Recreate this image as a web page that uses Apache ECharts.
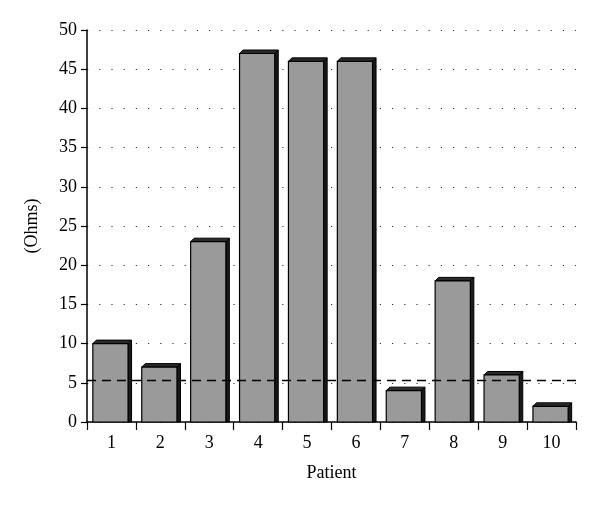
<!DOCTYPE html>
<html><head><meta charset="utf-8">
<script src="https://cdn.jsdelivr.net/npm/echarts@6/dist/echarts.min.js"></script>
<style>html,body{margin:0;padding:0;background:#fff}#c{width:600px;height:507px}</style>
</head><body><div id="c"></div>
<script>
const categories = ['1','2','3','4','5','6','7','8','9','10'];
const values = [10, 7, 23, 47, 46, 46, 4, 18, 6, 2];
const threshold = 5.3;
const yTicks = [0, 5, 10, 15, 20, 25, 30, 35, 40, 45, 50];

const chart = echarts.init(document.getElementById('c'), null, {renderer: 'canvas'});
const font = 'Liberation Serif';
chart.setOption({
  animation: false,
  grid: {left: 87, top: 30, right: 24, bottom: 85},
  xAxis: {
    type: 'category', data: categories,
    axisLine: {lineStyle: {color: '#000', width: 1.5}},
    axisTick: {show: true, length: 8, alignWithLabel: false, lineStyle: {color: '#000', width: 1.2}},
    axisLabel: {color: '#000', fontFamily: font, fontSize: 18, margin: 12},
    name: 'Patient', nameLocation: 'middle', nameGap: 42,
    nameTextStyle: {color: '#000', fontFamily: font, fontSize: 18}
  },
  yAxis: {
    type: 'value', min: yTicks[0], max: yTicks[yTicks.length-1], interval: 5,
    axisLine: {show: true, lineStyle: {color: '#000', width: 1.5}},
    axisTick: {show: true, length: 6, lineStyle: {color: '#000', width: 1.2}},
    axisLabel: {color: '#000', fontFamily: font, fontSize: 18, margin: 10},
    splitLine: {show: true, lineStyle: {color: '#333', width: 1.2, type: [1.2, 11]}},
    name: '(Ohms)', nameLocation: 'middle', nameGap: 46, nameRotate: 90,
    nameTextStyle: {color: '#000', fontFamily: font, fontSize: 18}
  },
  series: [{
    type: 'custom',
    data: values.map((v, i) => [i, v]),
    renderItem: function (params, api) {
      const top = api.coord([api.value(0), api.value(1)]);
      const base = api.coord([api.value(0), 0]);
      const bw = api.size([1, 0])[0] * 0.72;
      const d = 3.5;
      const x0 = top[0] - bw / 2 - 1, x1 = x0 + bw;
      const y0 = top[1], y1 = base[1];
      return {
        type: 'group',
        children: [
          {type: 'polygon', shape: {points: [[x1, y0], [x1 + d, y0 - d], [x1 + d, y1], [x1, y1]]},
           style: {fill: '#1a1a1a', stroke: '#000', lineWidth: 1}},
          {type: 'polygon', shape: {points: [[x0, y0], [x0 + d, y0 - d], [x1 + d, y0 - d], [x1, y0]]},
           style: {fill: '#2a2a2a', stroke: '#000', lineWidth: 1}},
          {type: 'rect', shape: {x: x0, y: y0, width: bw, height: y1 - y0},
           style: {fill: '#9a9a9a', stroke: '#000', lineWidth: 1.2}}
        ]
      };
    },
    markLine: {
      silent: true, symbol: 'none', label: {show: false},
      lineStyle: {color: '#000', width: 1.4, type: [9, 6]},
      data: [{yAxis: threshold}]
    },
    z: 3
  }]
});
</script></body></html>
